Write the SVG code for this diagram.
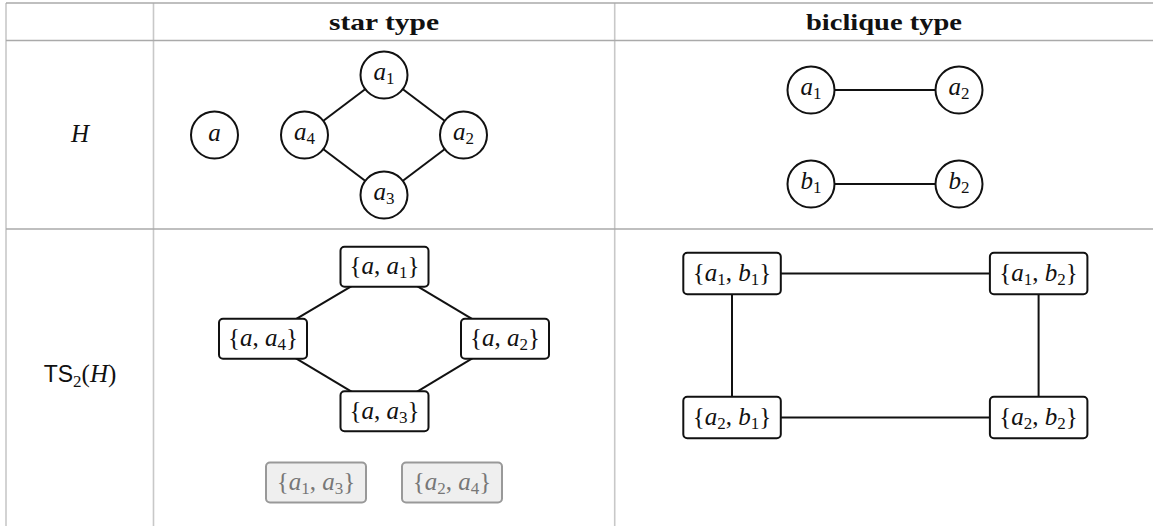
<svg xmlns="http://www.w3.org/2000/svg" width="1153" height="526" viewBox="0 0 1153 526">
<style>
.hl{stroke:#aaa;stroke-width:1.3;fill:none}
.vl{stroke:#c8c8c8;stroke-width:1.6;fill:none}
.hdr{font-family:"Liberation Serif",serif;font-weight:bold;font-size:24px;fill:#111}
.m{font-family:"Liberation Serif",serif;font-size:25px;fill:#111}
.i{font-style:italic}
.s{font-size:17px;font-style:normal}
.c{fill:#fff;stroke:#111;stroke-width:2}
.b{fill:#fff;stroke:#111;stroke-width:2}
.g{fill:#efefef;stroke:#999;stroke-width:2}
.gt{fill:#777}
.e{stroke:#111;stroke-width:2;fill:none}
.sans{font-family:"Liberation Sans",sans-serif;font-style:normal}
</style>
<rect width="1153" height="526" fill="#fff"/>
<g id="table">
<line class="vl" x1="6" y1="3" x2="6" y2="526"/>
<line class="vl" x1="153.5" y1="3" x2="153.5" y2="526"/>
<line class="vl" x1="614.7" y1="3" x2="614.7" y2="526"/>
<line class="hl" x1="6" y1="3" x2="1153" y2="3"/>
<line class="hl" x1="6" y1="40.5" x2="1153" y2="40.5"/>
<line class="hl" x1="6" y1="229" x2="1153" y2="229"/>
<text class="hdr" x="384" y="30" text-anchor="middle" textLength="110" lengthAdjust="spacingAndGlyphs">star type</text>
<text class="hdr" x="884" y="30" text-anchor="middle" textLength="156" lengthAdjust="spacingAndGlyphs">biclique type</text>
<text class="m i" x="80" y="142" text-anchor="middle">H</text>
<text class="m" x="80" y="382" text-anchor="middle"><tspan class="sans" font-size="23">TS</tspan><tspan class="s" dy="5">2</tspan><tspan dy="-5">(</tspan><tspan class="i">H</tspan>)</text>
</g>
<g id="connectors">
<line class="e" x1="384" y1="75" x2="463.5" y2="135"/>
<line class="e" x1="463.5" y1="135" x2="384" y2="195"/>
<line class="e" x1="384" y1="195" x2="304.5" y2="135"/>
<line class="e" x1="304.5" y1="135" x2="384" y2="75"/>
<line class="e" x1="811" y1="90" x2="959" y2="90"/>
<line class="e" x1="811" y1="184" x2="959" y2="184"/>
<line class="e" x1="384.5" y1="266.7" x2="263" y2="338.7"/>
<line class="e" x1="384.5" y1="266.7" x2="505" y2="338.7"/>
<line class="e" x1="263" y1="338.7" x2="384.5" y2="411.3"/>
<line class="e" x1="505" y1="338.7" x2="384.5" y2="411.3"/>
<line class="e" x1="732" y1="273.5" x2="1038.6" y2="273.5"/>
<line class="e" x1="732" y1="417.5" x2="1038.6" y2="417.5"/>
<line class="e" x1="732" y1="273.5" x2="732" y2="417.5"/>
<line class="e" x1="1038.6" y1="273.5" x2="1038.6" y2="417.5"/>
</g>
<g id="h-a"><circle class="c" cx="214.5" cy="135" r="23.5"/><text class="m i" x="214.5" y="140.5" text-anchor="middle">a</text></g>
<g id="h-a1"><circle class="c" cx="384" cy="75" r="23.5"/><text class="m" x="384" y="80" text-anchor="middle"><tspan class="i">a</tspan><tspan class="s" dy="4">1</tspan></text></g>
<g id="h-a2"><circle class="c" cx="463.5" cy="135" r="23.5"/><text class="m" x="463.5" y="140" text-anchor="middle"><tspan class="i">a</tspan><tspan class="s" dy="4">2</tspan></text></g>
<g id="h-a3"><circle class="c" cx="384" cy="195" r="23.5"/><text class="m" x="384" y="200" text-anchor="middle"><tspan class="i">a</tspan><tspan class="s" dy="4">3</tspan></text></g>
<g id="h-a4"><circle class="c" cx="304.5" cy="135" r="23.5"/><text class="m" x="304.5" y="140" text-anchor="middle"><tspan class="i">a</tspan><tspan class="s" dy="4">4</tspan></text></g>
<g id="hb-a1"><circle class="c" cx="811" cy="90" r="23.5"/><text class="m" x="811" y="95" text-anchor="middle"><tspan class="i">a</tspan><tspan class="s" dy="4">1</tspan></text></g>
<g id="hb-a2"><circle class="c" cx="959" cy="90" r="23.5"/><text class="m" x="959" y="95" text-anchor="middle"><tspan class="i">a</tspan><tspan class="s" dy="4">2</tspan></text></g>
<g id="hb-b1"><circle class="c" cx="811" cy="184" r="23.5"/><text class="m" x="811" y="189" text-anchor="middle"><tspan class="i">b</tspan><tspan class="s" dy="4">1</tspan></text></g>
<g id="hb-b2"><circle class="c" cx="959" cy="184" r="23.5"/><text class="m" x="959" y="189" text-anchor="middle"><tspan class="i">b</tspan><tspan class="s" dy="4">2</tspan></text></g>
<g id="ts-aa1"><rect class="b" x="340.5" y="246.7" width="88" height="40" rx="4"/><text class="m" x="384.5" y="274" text-anchor="middle">{<tspan class="i">a</tspan>, <tspan class="i">a</tspan><tspan class="s" dy="4">1</tspan><tspan dy="-4">}</tspan></text></g>
<g id="ts-aa4"><rect class="b" x="219" y="318.7" width="88" height="40" rx="4"/><text class="m" x="263" y="346" text-anchor="middle">{<tspan class="i">a</tspan>, <tspan class="i">a</tspan><tspan class="s" dy="4">4</tspan><tspan dy="-4">}</tspan></text></g>
<g id="ts-aa2"><rect class="b" x="461" y="318.7" width="88" height="40" rx="4"/><text class="m" x="505" y="346" text-anchor="middle">{<tspan class="i">a</tspan>, <tspan class="i">a</tspan><tspan class="s" dy="4">2</tspan><tspan dy="-4">}</tspan></text></g>
<g id="ts-aa3"><rect class="b" x="340.5" y="391.3" width="88" height="40" rx="4"/><text class="m" x="384.5" y="418.6" text-anchor="middle">{<tspan class="i">a</tspan>, <tspan class="i">a</tspan><tspan class="s" dy="4">3</tspan><tspan dy="-4">}</tspan></text></g>
<g id="ts-a1a3"><rect class="g" x="266" y="462.5" width="100" height="40" rx="4"/><text class="m gt" x="316" y="489.8" text-anchor="middle">{<tspan class="i">a</tspan><tspan class="s" dy="4">1</tspan><tspan dy="-4">, </tspan><tspan class="i">a</tspan><tspan class="s" dy="4">3</tspan><tspan dy="-4">}</tspan></text></g>
<g id="ts-a2a4"><rect class="g" x="402" y="462.5" width="100" height="40" rx="4"/><text class="m gt" x="452" y="489.8" text-anchor="middle">{<tspan class="i">a</tspan><tspan class="s" dy="4">2</tspan><tspan dy="-4">, </tspan><tspan class="i">a</tspan><tspan class="s" dy="4">4</tspan><tspan dy="-4">}</tspan></text></g>
<g id="ts-a1b1"><rect class="b" x="683.3" y="252.8" width="97.5" height="41.5" rx="4"/><text class="m" x="732" y="280.8" text-anchor="middle">{<tspan class="i">a</tspan><tspan class="s" dy="4">1</tspan><tspan dy="-4">, </tspan><tspan class="i">b</tspan><tspan class="s" dy="4">1</tspan><tspan dy="-4">}</tspan></text></g>
<g id="ts-a1b2"><rect class="b" x="989.9" y="252.8" width="97.5" height="41.5" rx="4"/><text class="m" x="1038.6" y="280.8" text-anchor="middle">{<tspan class="i">a</tspan><tspan class="s" dy="4">1</tspan><tspan dy="-4">, </tspan><tspan class="i">b</tspan><tspan class="s" dy="4">2</tspan><tspan dy="-4">}</tspan></text></g>
<g id="ts-a2b1"><rect class="b" x="683.3" y="396.8" width="97.5" height="41.5" rx="4"/><text class="m" x="732" y="424.8" text-anchor="middle">{<tspan class="i">a</tspan><tspan class="s" dy="4">2</tspan><tspan dy="-4">, </tspan><tspan class="i">b</tspan><tspan class="s" dy="4">1</tspan><tspan dy="-4">}</tspan></text></g>
<g id="ts-a2b2"><rect class="b" x="989.9" y="396.8" width="97.5" height="41.5" rx="4"/><text class="m" x="1038.6" y="424.8" text-anchor="middle">{<tspan class="i">a</tspan><tspan class="s" dy="4">2</tspan><tspan dy="-4">, </tspan><tspan class="i">b</tspan><tspan class="s" dy="4">2</tspan><tspan dy="-4">}</tspan></text></g>
</svg>
